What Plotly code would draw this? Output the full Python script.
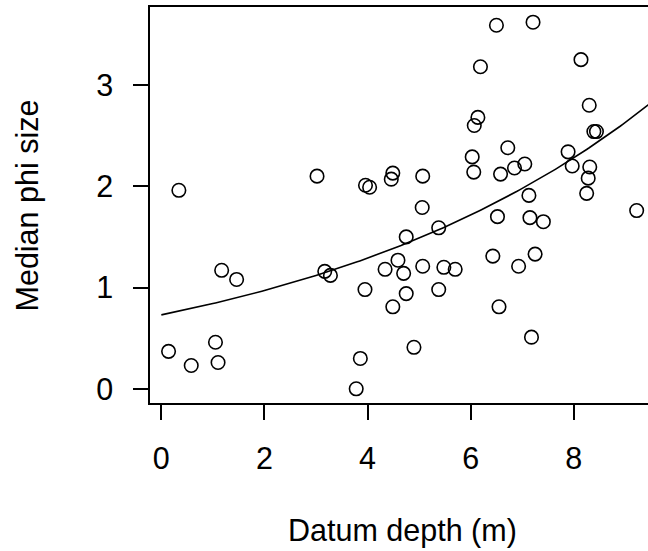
import numpy as np
import plotly.graph_objects as go

# Data
datum_depth = [0.14, 0.34, 0.58, 1.05, 1.10, 1.17, 1.46,
               3.02, 3.17, 3.28, 3.78, 3.86, 3.95, 3.96, 4.04, 4.34, 4.46, 4.49, 4.49,
               4.59, 4.70, 4.75, 4.75, 4.90, 5.06, 5.07, 5.07, 5.38, 5.38, 5.48, 5.70,
               6.03, 6.06, 6.07, 6.14, 6.19, 6.43, 6.50, 6.52, 6.55, 6.58, 6.72, 6.85,
               6.93, 7.05, 7.13, 7.15, 7.18, 7.21, 7.25, 7.41, 7.89, 7.97, 8.14, 8.25,
               8.28, 8.30, 8.31, 8.39, 8.44, 9.22]
median_phi = [0.37, 1.96, 0.23, 0.46, 0.26, 1.17, 1.08,
              2.10, 1.16, 1.12, 0.00, 0.30, 0.98, 2.01, 1.99, 1.18, 2.07, 2.13, 0.81,
              1.27, 1.14, 1.50, 0.94, 0.41, 1.79, 2.10, 1.21, 1.59, 0.98, 1.20, 1.18,
              2.29, 2.14, 2.60, 2.68, 3.18, 1.31, 3.59, 1.70, 0.81, 2.12, 2.38, 2.18,
              1.21, 2.22, 1.91, 1.69, 0.51, 3.62, 1.33, 1.65, 2.34, 2.20, 3.25, 1.93,
              2.08, 2.80, 2.19, 2.54, 2.54, 1.76]

# Fitted exponential curve: y = a * exp(b * x)
fit_a = 0.73
fit_b = 0.1424
fit_x = np.linspace(0, 10, 201)
fit_y = fit_a * np.exp(fit_b * fit_x)

x_ticks = [0, 2, 4, 6, 8]
y_ticks = [0, 1, 2, 3]

FONT = "Liberation Sans, Arial, Helvetica, sans-serif"
FS = 30.5

fig = go.Figure()
fig.add_trace(go.Scatter(x=fit_x, y=fit_y, mode="lines",
                         line=dict(color="black", width=1.6),
                         hoverinfo="skip", showlegend=False))
fig.add_trace(go.Scatter(x=datum_depth, y=median_phi, mode="markers",
                         marker=dict(symbol="circle-open", size=13.5, color="black",
                                     line=dict(width=1.6, color="black")),
                         showlegend=False))

fig.update_layout(
    width=648, height=551,
    margin=dict(l=150, r=0, t=7, b=148, pad=0),
    paper_bgcolor="white", plot_bgcolor="white",
    font=dict(family=FONT, size=FS, color="black"),
    showlegend=False,
)
fig.update_xaxes(
    range=[-0.22, 9.44], tickmode="array", tickvals=x_ticks,
    ticktext=[str(v) for v in x_ticks],
    showgrid=False, zeroline=False,
    showline=True, linecolor="black", linewidth=1.5, mirror=True,
    ticks="outside", ticklen=15, tickwidth=1.5, tickcolor="black",
    ticklabelstandoff=13,
    tickfont=dict(family=FONT, size=FS, color="black"),
)
fig.update_yaxes(
    range=[-0.14, 3.77], tickmode="array", tickvals=y_ticks,
    ticktext=[str(v) for v in y_ticks],
    showgrid=False, zeroline=False,
    showline=True, linecolor="black", linewidth=1.5, mirror=False,
    ticks="outside", ticklen=15, tickwidth=1.5, tickcolor="black",
    ticklabelstandoff=14,
    tickfont=dict(family=FONT, size=FS, color="black"),
)

fig.add_annotation(text="Datum depth (m)", xref="x", yref="paper",
                   x=4.68, y=-0.323, xanchor="center", yanchor="middle",
                   showarrow=False, font=dict(family=FONT, size=FS, color="black"))
fig.add_annotation(text="Median phi size", xref="paper", yref="paper",
                   x=-0.246, y=0.5, xanchor="center", yanchor="middle", textangle=-90,
                   showarrow=False, font=dict(family=FONT, size=FS, color="black"))

fig.write_html("out.html",
               config={"displayModeBar": False},
               post_script="document.body.style.margin='0';document.body.style.overflow='hidden';")
